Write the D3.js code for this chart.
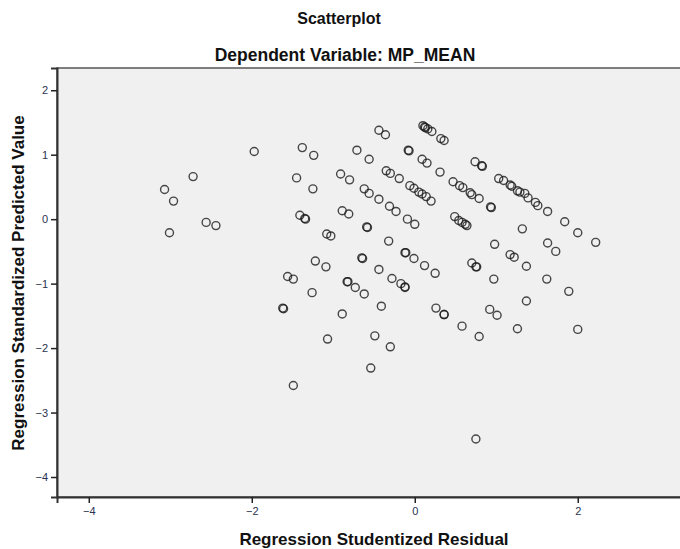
<!DOCTYPE html>
<html>
<head>
<meta charset="utf-8">
<script src="https://cdn.jsdelivr.net/npm/d3@7"></script>
<style>
  body { margin: 0; background: #fff; }
  svg { display: block; font-family: "Liberation Sans", Arial, sans-serif; }
</style>
</head>
<body>
<div id="chart"></div>
<script>
// Regression Studentized Residual (x) vs Regression Standardized Predicted Value (y)
const residual = [
  -3.07, -2.96, -3.01, -2.72, -2.56, -2.44, -1.97,
  -1.38, -1.24, -0.71, -0.56, -1.45, -1.25, -0.91, -0.80, -0.62, -0.56, -0.44,
  -1.41, -1.35, -1.34, -0.89, -0.81, -0.59, -0.58, -1.08, -1.03, -0.65, -0.64,
  -1.22, -1.09, -1.56, -1.49, -0.83, -0.82, -0.73, -0.62, -1.26, -1.62, -1.61,
  -0.89, -1.07, -1.49,
  -0.44, -0.36, 0.10, 0.13, 0.16, 0.21, 0.12, 0.32, 0.36, -0.08, -0.07, 0.09, 0.15,
  0.31, 0.74, 0.82, 0.83, -0.35, -0.30, -0.19, -0.06, -0.01, 0.05, 0.09, 0.14, 0.20,
  0.47, 0.55, 0.59, 0.68, 0.70, 0.79, 0.93, 0.94,
  1.03, 1.09, 1.17, 1.19, 1.26, 1.29, 1.35, 1.39, 1.48, 1.51, 1.63, 1.84, 2.00, 2.22,
  -0.31, -0.23, -0.09, 0.00, 0.49, 0.54, 0.58, 0.62, 0.64, 1.32,
  -0.32, -0.12, -0.11, -0.01, 0.12, 0.25, 0.98, 1.17, 1.22, 1.37, 1.63, 1.73,
  0.70, 0.75, 0.76, -0.44, -0.28, -0.17, -0.12, -0.12, 0.97, 1.62, 1.89,
  -0.41, 0.26, 0.36, 0.36, 0.58, 0.79, 0.92, 1.01, 1.37, 1.26, 2.00,
  -0.49, -0.30, -0.54, 0.75
];
const predicted = [
  0.46, 0.28, -0.21, 0.66, -0.05, -0.10, 1.05,
  1.11, 0.99, 1.07, 0.93, 0.64, 0.47, 0.70, 0.61, 0.47, 0.40, 0.31,
  0.06, 0.01, 0.00, 0.13, 0.08, -0.12, -0.13, -0.23, -0.26, -0.60, -0.61,
  -0.65, -0.74, -0.89, -0.93, -0.97, -0.97, -1.06, -1.16, -1.14, -1.38, -1.39,
  -1.47, -1.86, -2.58,
  1.38, 1.31, 1.45, 1.42, 1.40, 1.36, 1.43, 1.25, 1.22, 1.07, 1.06, 0.93, 0.87,
  0.73, 0.89, 0.83, 0.82, 0.75, 0.71, 0.63, 0.52, 0.48, 0.42, 0.39, 0.35, 0.28,
  0.58, 0.52, 0.49, 0.41, 0.38, 0.32, 0.19, 0.18,
  0.63, 0.60, 0.53, 0.51, 0.44, 0.42, 0.40, 0.33, 0.26, 0.21, 0.12, -0.04, -0.21, -0.36,
  0.20, 0.12, 0.00, -0.08, 0.04, -0.02, -0.05, -0.08, -0.10, -0.15,
  -0.34, -0.52, -0.52, -0.61, -0.72, -0.84, -0.39, -0.55, -0.59, -0.73, -0.37, -0.50,
  -0.68, -0.74, -0.74, -0.78, -0.92, -1.00, -1.05, -1.06, -0.93, -0.93, -1.12,
  -1.35, -1.38, -1.48, -1.48, -1.66, -1.82, -1.40, -1.49, -1.27, -1.70, -1.71,
  -1.81, -1.98, -2.31, -3.41
];
const xTicks = [-4, -2, 0, 2];
const yTicks = [2, 1, 0, -1, -2, -3, -4];

const w = 680;
const h = 549;
const plotLeft = 57, plotTop = 68, plotBottom = 497, plotRight = 700;

const dataset = residual.map(function (r, i) { return { x: r, y: predicted[i] }; });

const x = d3.scaleLinear().domain([-4.39, 3.5]).range([plotLeft, plotRight]);
const y = d3.scaleLinear().domain([-4.31, 2.345]).range([plotBottom, plotTop]);

const svg = d3.select("#chart")
  .append("svg")
  .attr("width", w)
  .attr("height", h);

// titles
svg.append("text")
  .attr("x", 339).attr("y", 24)
  .attr("text-anchor", "middle")
  .attr("font-weight", "bold")
  .attr("font-size", 16)
  .attr("fill", "#111")
  .text("Scatterplot");

svg.append("text")
  .attr("x", 345).attr("y", 61)
  .attr("text-anchor", "middle")
  .attr("font-weight", "bold")
  .attr("font-size", 17.5)
  .attr("fill", "#111")
  .text("Dependent Variable: MP_MEAN");

// plot background + frame
svg.append("rect")
  .attr("x", plotLeft).attr("y", plotTop)
  .attr("width", plotRight - plotLeft).attr("height", plotBottom - plotTop)
  .attr("fill", "#f0f0f0")
  .attr("stroke", "#555")
  .attr("stroke-width", 1.5);

// points
svg.append("g")
  .selectAll("circle")
  .data(dataset)
  .enter()
  .append("circle")
  .attr("cx", function (d) { return x(d.x); })
  .attr("cy", function (d) { return y(d.y); })
  .attr("r", 4)
  .attr("fill", "none")
  .attr("stroke", "#1a1a1a")
  .attr("stroke-opacity", 0.8)
  .attr("stroke-width", 1.4);

// axes
const xAxis = svg.append("g")
  .attr("transform", "translate(0," + plotBottom + ")")
  .call(d3.axisBottom(x).tickValues(xTicks).tickSize(6).tickPadding(4).tickFormat(d3.format("d")));

const yAxis = svg.append("g")
  .attr("transform", "translate(" + plotLeft + ",0)")
  .call(d3.axisLeft(y).tickValues(yTicks).tickSize(6).tickPadding(3).tickFormat(d3.format("d")));

[xAxis, yAxis].forEach(function (g) {
  g.select(".domain").attr("stroke", "#333").attr("stroke-width", 2);
  g.selectAll(".tick line").attr("stroke", "#222").attr("stroke-width", 1.5);
  g.selectAll(".tick text")
    .attr("fill", "#2b3350")
    .attr("font-size", 11)
    .attr("font-family", "Liberation Sans, Arial, sans-serif");
});

// axis titles
svg.append("text")
  .attr("x", 374).attr("y", 545)
  .attr("text-anchor", "middle")
  .attr("font-weight", "bold")
  .attr("font-size", 17)
  .attr("fill", "#111")
  .text("Regression Studentized Residual");

svg.append("text")
  .attr("transform", "translate(24,283) rotate(-90)")
  .attr("text-anchor", "middle")
  .attr("font-weight", "bold")
  .attr("font-size", 17)
  .attr("fill", "#111")
  .text("Regression Standardized Predicted Value");
</script>
</body>
</html>
